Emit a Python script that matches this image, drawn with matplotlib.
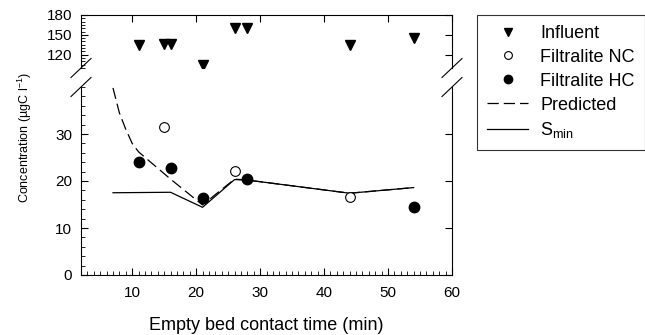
import matplotlib
matplotlib.use('Agg')
import matplotlib.pyplot as plt
from matplotlib.lines import Line2D
from matplotlib.ticker import MultipleLocator
import numpy as np

# data
influent_x = [11, 15, 16, 21, 26, 28, 44, 54]
influent_y = [135, 136, 136, 104, 160, 160, 134, 146]

nc_x = [15, 26, 44]
nc_y = [31.5, 22.1, 16.7]

hc_x = [11, 16, 21, 28, 54]
hc_y = [24.0, 22.8, 16.3, 20.4, 14.4]

pred_x = [7, 8, 9, 10, 11, 16, 21, 26, 28, 44, 54]
pred_y = [39.8, 34.5, 31.0, 28.0, 26.2, 20.4, 14.9, 20.4, 20.2, 17.4, 18.6]

smin_x = [7, 16, 21, 26, 28, 44, 54]
smin_y = [17.5, 17.6, 14.4, 20.3, 20.2, 17.4, 18.6]

W, H = 645, 335


def break_marks(fig, ax, y_axes):
	# little diagonal lines over both spines, in pixels
	x0, y0 = ax.transAxes.transform((0, y_axes))
	x1, _ = ax.transAxes.transform((1, y_axes))
	for xc in (x0, x1):
		xs = np.array([xc - 10, xc + 10]) / W
		ys = np.array([y0 - 9.5, y0 + 9.5]) / H
		fig.add_artist(Line2D(xs, ys, color='black', lw=0.8, transform=fig.transFigure))


def main():
	plt.rcParams['font.family'] = ['Liberation Sans', 'DejaVu Sans']
	plt.rcParams['mathtext.default'] = 'regular'

	fig = plt.figure(figsize=(W / 100, H / 100), dpi=100)

	left = 81 / W
	width = (452 - 81) / W
	ax_top = fig.add_axes([left, 1 - 68 / H, width, (68 - 15) / H])
	ax_bot = fig.add_axes([left, 1 - 275 / H, width, (275 - 87) / H])

	# upper part: influent
	ax_top.plot(influent_x, influent_y, 'v', color='black', ms=7, label='Influent')
	ax_top.set_xlim(2, 60)
	ax_top.set_ylim(100, 180)
	ax_top.set_yticks([120, 150, 180])
	ax_top.yaxis.set_minor_locator(MultipleLocator(5))
	ax_top.set_xticks([10, 20, 30, 40, 50, 60])
	ax_top.spines['bottom'].set_visible(False)
	ax_top.tick_params(which='both', direction='in', bottom=False, labelbottom=False,
		top=True, right=True, labelsize=11, pad=6.5)
	ax_top.tick_params(which='major', length=5)
	ax_top.tick_params(which='minor', length=3, right=False, top=False)

	# lower part
	ax_bot.plot(pred_x, pred_y, color='black', lw=0.9, dashes=(9, 4), label='Predicted')
	ax_bot.plot(smin_x, smin_y, color='black', lw=0.9, label='S$_{min}$')
	ax_bot.plot(nc_x, nc_y, 'o', mfc='white', mec='black', mew=0.8, ms=7, label='Filtralite NC')
	ax_bot.plot(hc_x, hc_y, 'o', color='black', ms=7.5, label='Filtralite HC')
	ax_bot.set_xlim(2, 60)
	ax_bot.set_ylim(0, 40)
	ax_bot.set_yticks([0, 10, 20, 30])
	ax_bot.set_xticks([10, 20, 30, 40, 50, 60])
	ax_bot.yaxis.set_minor_locator(MultipleLocator(2))
	ax_bot.xaxis.set_minor_locator(MultipleLocator(1))
	ax_bot.spines['top'].set_visible(False)
	ax_bot.tick_params(which='both', direction='in', right=True, top=False, labelsize=11)
	ax_bot.tick_params(axis='y', pad=6.5)
	ax_bot.tick_params(axis='x', pad=8)
	ax_bot.tick_params(which='major', length=5)
	ax_bot.tick_params(which='minor', length=3, right=False)
	ax_bot.set_xlabel('Empty bed contact time (min)', fontsize=13, labelpad=12)

	for ax in (ax_top, ax_bot):
		for sp in ax.spines.values():
			sp.set_linewidth(0.8)

	break_marks(fig, ax_top, 0)
	break_marks(fig, ax_bot, 1)

	fig.text(25 / W, 1 - 138 / H, 'Concentration (µgC l$^{-1}$)', rotation=90,
		ha='center', va='center', fontsize=9)

	h_top, l_top = ax_top.get_legend_handles_labels()
	h_bot, l_bot = ax_bot.get_legend_handles_labels()
	handles = h_top + [h_bot[2], h_bot[3], h_bot[0], h_bot[1]]
	labels = l_top + [l_bot[2], l_bot[3], l_bot[0], l_bot[1]]
	leg = fig.legend(handles, labels, loc='upper left', bbox_to_anchor=(477 / W, 1 - 15 / H),
		borderaxespad=0, fontsize=13, frameon=True, fancybox=False, markerscale=0.8,
		handlelength=2.3, handletextpad=0.65, labelspacing=0.38, borderpad=0.55)
	leg.get_frame().set_edgecolor('black')
	leg.get_frame().set_linewidth(0.8)

	fig.savefig('out.png', dpi=100)


if __name__ == '__main__':
	main()
